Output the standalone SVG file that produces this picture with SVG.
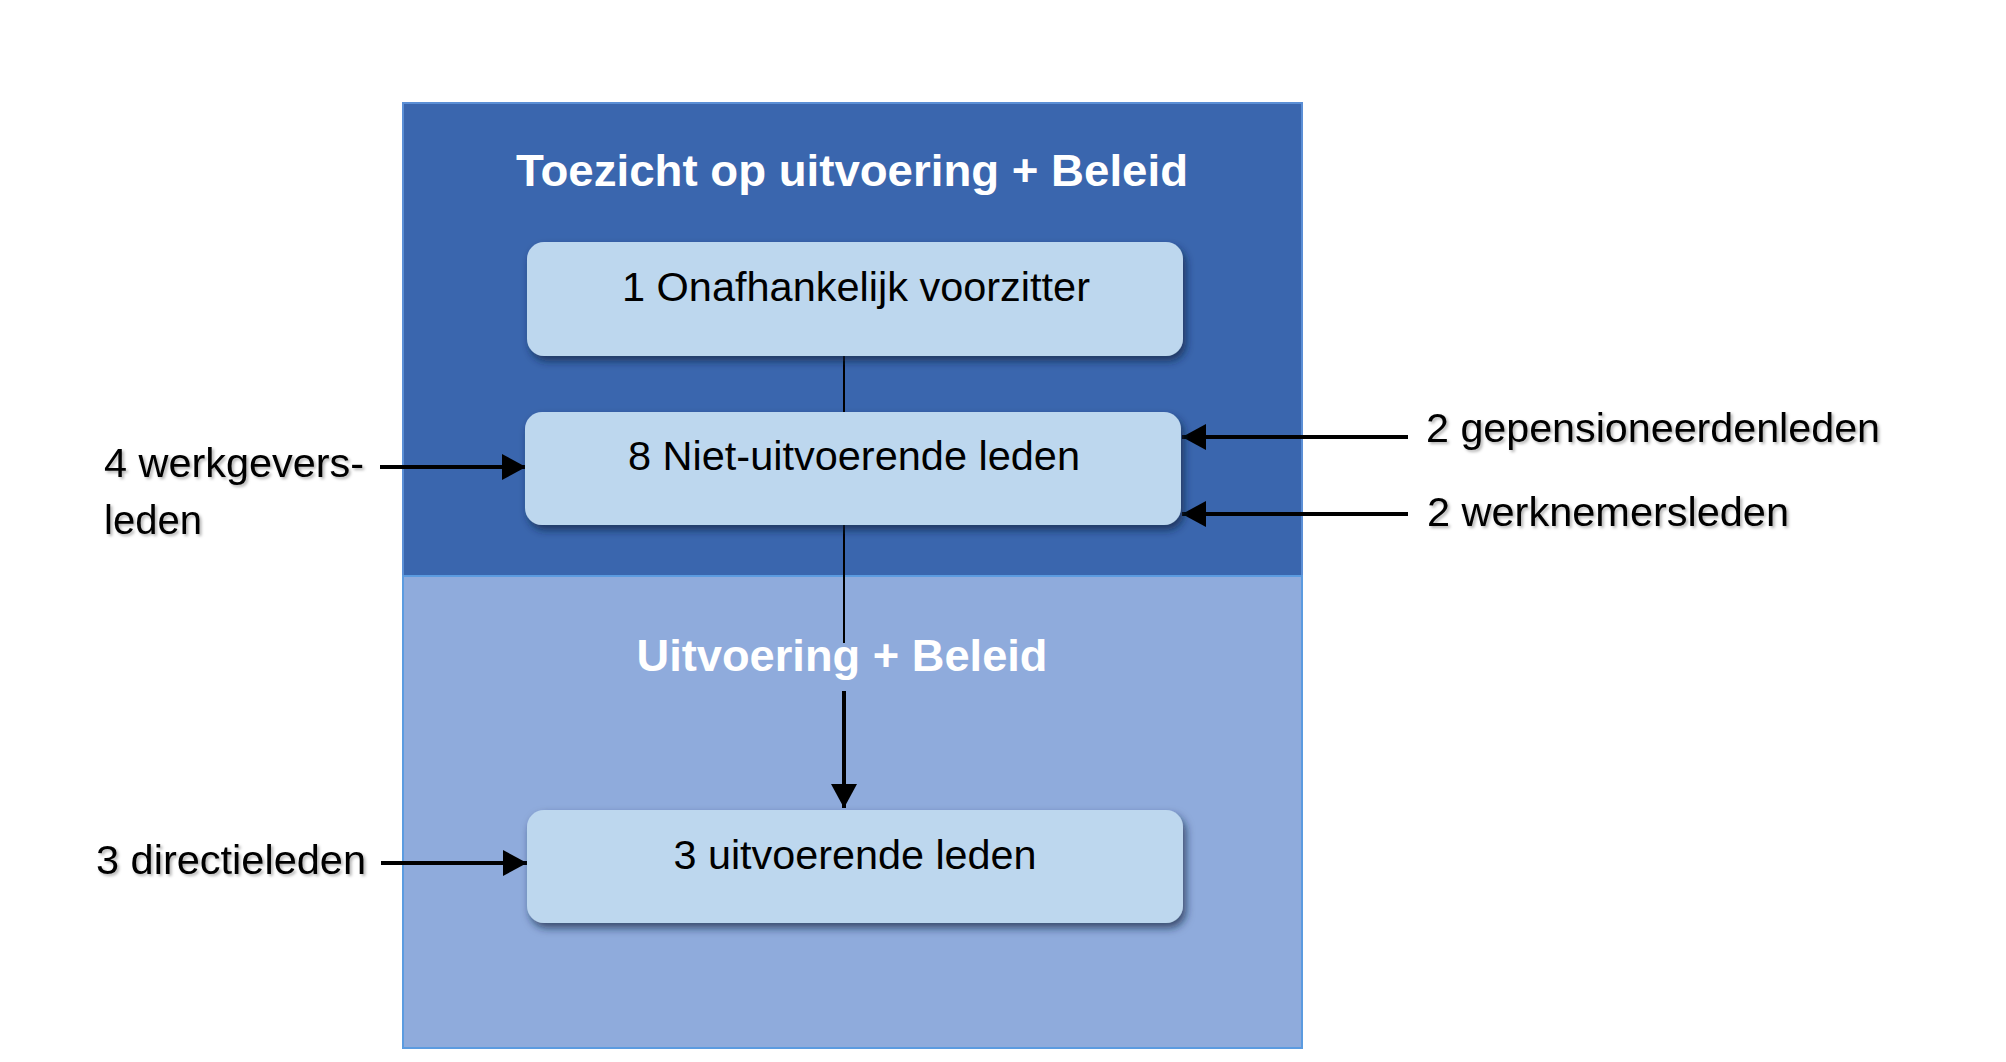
<svg xmlns="http://www.w3.org/2000/svg" width="2006" height="1062" viewBox="0 0 2006 1062">
<defs>
<style>
.lbl{font-family:"Liberation Sans",Arial,sans-serif;font-size:40px;fill:#000}
.ttl{font-family:"Liberation Sans",Arial,sans-serif;font-size:45px;font-weight:bold;fill:#fff}
.node{fill:#BDD7EE}
.arr{stroke:#000;stroke-width:4;fill:none}
.thin{stroke:#000;stroke-width:2;fill:none}
</style>
<filter id="sh" x="-10%" y="-20%" width="130%" height="160%">
<feDropShadow dx="3" dy="5" stdDeviation="4" flood-color="#14213f" flood-opacity="0.7"/>
</filter>
<filter id="tsh" x="-5%" y="-20%" width="110%" height="150%">
<feDropShadow dx="2" dy="2" stdDeviation="1.5" flood-color="#000" flood-opacity="0.3"/>
</filter>
<marker id="ah" markerUnits="userSpaceOnUse" markerWidth="26" markerHeight="28" refX="24" refY="13" orient="auto">
<path d="M0,0 L24,13 L0,26 Z" fill="#000"/>
</marker>
</defs>
<rect width="2006" height="1062" fill="#fff"/>
<g id="region-top">
<rect x="403" y="103" width="899" height="473" fill="#3A66AE" stroke="#5B8FD6" stroke-width="2"/>
<text class="ttl" x="852" y="186" text-anchor="middle" textLength="672" lengthAdjust="spacingAndGlyphs">Toezicht op uitvoering + Beleid</text>
</g>
<g id="region-bottom">
<rect x="403" y="576" width="899" height="472" fill="#8FABDC" stroke="#5B9BE0" stroke-width="2"/>
</g>
<g id="connectors">
<line class="thin" x1="844" y1="356" x2="844" y2="412"/>
<line class="thin" x1="844" y1="525" x2="844" y2="643"/>
<line class="arr" x1="844" y1="691" x2="844" y2="808" marker-end="url(#ah)"/>
<line class="arr" x1="380" y1="467" x2="526" y2="467" marker-end="url(#ah)"/>
<line class="arr" x1="1408" y1="437" x2="1182" y2="437" marker-end="url(#ah)"/>
<line class="arr" x1="1408" y1="514" x2="1182" y2="514" marker-end="url(#ah)"/>
<line class="arr" x1="381" y1="863" x2="527" y2="863" marker-end="url(#ah)"/>
</g>
<g id="region-bottom-title">
<text class="ttl" x="842" y="671" text-anchor="middle" textLength="411" lengthAdjust="spacingAndGlyphs">Uitvoering + Beleid</text>
</g>
<g id="node-voorzitter">
<rect class="node" x="527" y="242" width="656" height="114" rx="17" filter="url(#sh)"/>
<text class="lbl" x="856" y="301" text-anchor="middle" textLength="468" lengthAdjust="spacingAndGlyphs">1 Onafhankelijk voorzitter</text>
</g>
<g id="node-niet-uitvoerend">
<rect class="node" x="525" y="412" width="656" height="113" rx="17" filter="url(#sh)"/>
<text class="lbl" x="854" y="470" text-anchor="middle" textLength="452" lengthAdjust="spacingAndGlyphs">8 Niet-uitvoerende leden</text>
</g>
<g id="node-uitvoerend">
<rect class="node" x="527" y="810" width="656" height="113" rx="17" filter="url(#sh)"/>
<text class="lbl" x="855" y="869" text-anchor="middle" textLength="363" lengthAdjust="spacingAndGlyphs">3 uitvoerende leden</text>
</g>
<g id="label-werkgevers" filter="url(#tsh)">
<text class="lbl" x="104" y="477" textLength="260" lengthAdjust="spacingAndGlyphs">4 werkgevers-</text>
<text class="lbl" x="104" y="534">leden</text>
</g>
<g id="label-gepensioneerden" filter="url(#tsh)">
<text class="lbl" x="1426" y="442" textLength="454" lengthAdjust="spacingAndGlyphs">2 gepensioneerdenleden</text>
</g>
<g id="label-werknemers" filter="url(#tsh)">
<text class="lbl" x="1427" y="526" textLength="362" lengthAdjust="spacingAndGlyphs">2 werknemersleden</text>
</g>
<g id="label-directie" filter="url(#tsh)">
<text class="lbl" x="96" y="874" textLength="270" lengthAdjust="spacingAndGlyphs">3 directieleden</text>
</g>
</svg>
